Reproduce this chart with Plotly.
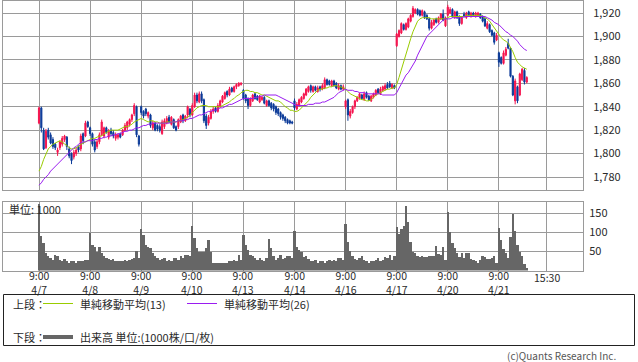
import plotly.graph_objects as go

# ---------------- data ----------------
days = ["4/7", "4/8", "4/9", "4/10", "4/13", "4/14", "4/16", "4/17", "4/20", "4/21"]
bars_in_day = [22, 22, 22, 22, 22, 22, 22, 22, 22, 13]
slots_per_day = 22

open_ = [
    1826,1839,1820,1805,1820,1816,1812,1808,1801,1805,1808,1812,1814,1804,1800,1797,1800,1806,1804,1817,1815,1827,
    1822,1817,1810,1806,1810,1816,1815,1822,1814,1820,1818,1813,1814,1817,1816,1820,1822,1825,1829,1834,1840,1815,
    1840,1836,1838,1832,1833,1822,1826,1824,1823,1817,1823,1826,1831,1825,1829,1823,1823,1827,1833,1828,1833,1838,
    1833,1840,1850,1844,1851,1846,1832,1826,1830,1836,1839,1836,1840,1844,1847,1853,1850,1856,1853,1857,1858,1859,
    1854,1850,1847,1841,1845,1851,1849,1844,1846,1848,1841,1845,1843,1842,1840,1838,1835,1833,1831,1829,1828,1827,
    1845,1838,1841,1844,1847,1850,1853,1858,1853,1857,1853,1857,1855,1856,1863,1862,1858,1862,1860,1855,1858,1855,
    1840,1846,1832,1835,1840,1845,1847,1850,1846,1852,1849,1845,1848,1850,1855,1851,1854,1855,1859,1860,1856,1858,
    1892,1900,1903,1910,1906,1908,1913,1917,1920,1923,1922,1918,1921,1918,1915,1907,1910,1915,1912,1915,1919,1909,
    1918,1920,1923,1916,1921,1917,1911,1919,1916,1921,1917,1920,1917,1918,1919,1917,1915,1907,1910,1905,1903,1897,
    1886,1882,1877,1884,1894,1890,1866,1845,1857,1850,1863,1871,1861,
]
high = [
    1840,1840,1822,1821,1822,1818,1814,1809,1805,1811,1815,1816,1815,1806,1801,1803,1805,1807,1817,1818,1828,1828,
    1823,1818,1812,1812,1818,1829,1823,1823,1821,1822,1820,1818,1817,1818,1821,1826,1828,1830,1834,1843,1841,1816,
    1841,1837,1839,1836,1834,1828,1827,1825,1825,1829,1830,1832,1833,1832,1830,1824,1830,1833,1834,1833,1841,1839,
    1843,1852,1852,1853,1853,1847,1834,1833,1838,1840,1840,1843,1846,1850,1853,1854,1857,1857,1858,1860,1861,1861,
    1855,1851,1848,1848,1851,1852,1850,1850,1849,1849,1846,1846,1844,1843,1841,1839,1836,1834,1832,1830,1829,1828,
    1847,1844,1847,1849,1852,1856,1858,1859,1858,1858,1858,1858,1860,1865,1864,1863,1863,1863,1861,1860,1859,1859,
    1846,1847,1838,1841,1846,1849,1852,1851,1853,1853,1850,1850,1852,1855,1856,1857,1858,1860,1861,1862,1860,1859,
    1903,1906,1912,1911,1912,1916,1919,1926,1924,1924,1923,1923,1922,1919,1916,1914,1915,1916,1917,1920,1923,1917,
    1927,1925,1924,1922,1922,1918,1917,1921,1921,1922,1921,1921,1921,1921,1920,1918,1916,1913,1911,1906,1904,1903,
    1887,1883,1888,1891,1898,1891,1867,1864,1858,1869,1873,1873,1866,
]
low = [
    1825,1818,1803,1804,1812,1808,1804,1803,1798,1803,1806,1810,1803,1796,1791,1795,1798,1801,1802,1808,1814,1822,
    1815,1806,1801,1804,1808,1815,1813,1817,1812,1815,1813,1811,1812,1813,1815,1819,1820,1823,1827,1832,1814,1806,
    1833,1830,1832,1830,1822,1820,1819,1819,1818,1816,1821,1825,1826,1824,1821,1819,1821,1826,1826,1827,1830,1831,
    1832,1839,1843,1843,1843,1826,1821,1824,1829,1834,1835,1835,1839,1843,1846,1848,1849,1852,1852,1855,1857,1858,
    1846,1843,1838,1840,1844,1846,1845,1843,1845,1842,1840,1840,1837,1836,1833,1832,1829,1828,1826,1825,1825,1825,
    1837,1837,1840,1843,1846,1849,1852,1852,1852,1853,1852,1853,1854,1855,1858,1858,1857,1857,1855,1854,1854,1854,
    1838,1828,1830,1834,1838,1844,1846,1846,1845,1847,1845,1844,1847,1849,1851,1850,1853,1854,1855,1856,1855,1855,
    1891,1899,1902,1905,1905,1907,1912,1916,1919,1918,1917,1917,1915,1914,1905,1906,1909,1911,1911,1914,1913,1908,
    1917,1919,1916,1915,1915,1909,1910,1916,1915,1917,1916,1917,1916,1917,1915,1912,1908,1906,1903,1900,1893,1896,
    1874,1876,1876,1883,1889,1865,1849,1842,1843,1849,1862,1859,1860,
]
close = [
    1839,1822,1804,1819,1814,1809,1806,1805,1803,1810,1813,1815,1806,1798,1794,1801,1803,1803,1815,1811,1826,1823,
    1817,1808,1803,1810,1816,1827,1822,1818,1819,1817,1815,1816,1816,1814,1820,1824,1827,1829,1833,1841,1816,1808,
    1835,1832,1834,1835,1824,1826,1820,1821,1820,1827,1828,1830,1827,1831,1822,1820,1829,1832,1828,1832,1840,1833,
    1841,1850,1845,1851,1845,1828,1824,1831,1836,1838,1836,1841,1845,1849,1852,1850,1855,1853,1857,1859,1860,1860,
    1847,1845,1841,1847,1850,1847,1846,1849,1848,1843,1845,1841,1839,1838,1835,1834,1831,1830,1828,1826,1826,1826,
    1839,1842,1846,1848,1851,1855,1857,1854,1857,1854,1856,1855,1858,1863,1859,1859,1862,1858,1856,1858,1855,1857,
    1845,1833,1836,1840,1845,1848,1851,1847,1851,1848,1846,1849,1851,1854,1852,1855,1857,1858,1856,1857,1859,1856,
    1902,1905,1911,1906,1911,1915,1918,1924,1923,1919,1918,1922,1916,1915,1907,1912,1914,1912,1916,1919,1914,1916,
    1925,1923,1917,1921,1916,1911,1916,1917,1920,1918,1920,1918,1920,1920,1916,1913,1909,1911,1904,1901,1895,1901,
    1878,1877,1886,1889,1890,1866,1850,1862,1845,1868,1872,1861,1865,
]
ma13 = [
    1785,1789,1795,1800,1804,1806,1808,1809,1810,1811,1810,1808,1807,1805,1804,1804,1805,1806,1808,1809,1810,1811,
    1812,1813,1813,1814,1815,1815,1817,1818,1819,1820,1820,1820,1820,1821,1822,1823,1823,1824,1825,1827,1828,1829,
    1830,1829,1828,1827,1828,1828,1827,1827,1826,1826,1826,1827,1827,1827,1827,1827,1828,1828,1829,1830,1831,1833,
    1835,1837,1839,1840,1841,1841,1841,1840,1840,1840,1840,1840,1840,1841,1842,1843,1844,1846,1847,1849,1850,1852,
    1853,1854,1854,1853,1853,1852,1852,1851,1850,1850,1849,1848,1847,1846,1845,1845,1844,1842,1840,1839,1837,1837,
    1836,1836,1837,1839,1841,1843,1845,1848,1850,1852,1854,1855,1855,1856,1856,1857,1857,1858,1858,1857,1857,1856,
    1855,1853,1851,1850,1849,1848,1847,1846,1846,1845,1845,1846,1848,1850,1851,1852,1853,1854,1855,1855,1856,1856,
    1859,1865,1872,1879,1886,1892,1898,1904,1909,1913,1915,1916,1916,1916,1916,1915,1915,1915,1915,1915,1915,1915,
    1916,1917,1917,1917,1917,1917,1917,1917,1918,1918,1918,1918,1918,1918,1918,1917,1916,1915,1913,1910,1907,1904,
    1901,1899,1897,1896,1894,1891,1887,1882,1878,1876,1874,1873,1872,
]
ma26 = [
    1773,1775,1778,1780,1782,1785,1787,1789,1791,1793,1795,1797,1799,1801,1803,1805,1806,1808,1809,1810,1810,1811,
    1811,1811,1812,1812,1813,1813,1814,1814,1815,1815,1816,1816,1817,1817,1818,1819,1819,1820,1820,1821,1822,1822,
    1823,1824,1824,1825,1825,1826,1826,1826,1826,1826,1826,1826,1826,1827,1827,1827,1828,1828,1828,1829,1829,1830,
    1830,1831,1832,1833,1833,1834,1835,1836,1836,1837,1837,1838,1839,1839,1840,1841,1842,1842,1843,1844,1845,1846,
    1847,1847,1847,1847,1847,1848,1848,1849,1849,1850,1850,1850,1850,1850,1850,1849,1848,1847,1846,1845,1844,1843,
    1842,1841,1841,1841,1841,1841,1842,1842,1842,1843,1843,1843,1844,1844,1845,1846,1847,1848,1850,1852,1853,1854,
    1855,1854,1854,1854,1853,1853,1852,1852,1852,1851,1851,1851,1851,1851,1851,1851,1850,1850,1850,1850,1850,1850,
    1852,1856,1860,1863,1867,1869,1872,1876,1879,1884,1888,1892,1896,1900,1902,1904,1906,1908,1910,1912,1914,1915,
    1915,1915,1916,1916,1916,1916,1916,1917,1917,1917,1917,1917,1917,1917,1917,1917,1917,1916,1915,1914,1912,1911,
    1910,1908,1906,1904,1903,1901,1900,1898,1896,1893,1891,1889,1888,
]
volume = [
    175,90,72,46,37,33,28,41,37,28,26,31,24,19,26,24,19,26,24,26,27,28,
    99,66,61,50,63,46,37,33,31,28,30,26,26,24,26,28,26,28,30,33,52,33,
    108,93,68,61,59,46,37,33,28,31,33,26,28,26,33,34,28,37,33,40,41,37,
    116,86,59,48,48,50,59,81,50,19,19,19,19,19,19,21,24,26,28,26,41,28,
    93,68,55,41,37,33,28,34,28,24,33,83,59,37,28,33,41,31,33,37,38,33,
    104,63,54,50,35,37,30,24,24,28,21,26,24,21,26,27,24,28,26,33,33,28,
    123,75,52,37,31,28,32,39,28,24,19,24,26,28,33,26,28,35,32,41,28,37,
    114,95,110,116,170,128,74,50,45,37,35,38,35,35,37,37,39,64,44,41,61,28,
    154,102,72,59,46,35,46,33,46,46,30,28,24,21,28,37,35,30,30,33,39,20,
    111,80,56,46,33,87,150,103,68,50,37,18,6,
]
price_ticks = [1780, 1800, 1820, 1840, 1860, 1880, 1900, 1920]
volume_ticks = [50, 100, 150]
close_label = "15:30"
close_slot = 20.7  # position of the 15:30 line inside the last day

# ---------------- style ----------------
RED = "#f5144e"
BLUE = "#0b3a98"
GREEN = "#99cc00"
PURPLE = "#9a1cf0"
VOLC = "#666666"
GRID = "#9a9a9a"
TXT = "#2a2a2a"
FONT = "Noto Sans CJK JP, Noto Sans, sans-serif"
W, H = 638, 362

def px(x):
    return x / W

def py(y):
    return 1 - y / H

x = []
for d, n in enumerate(bars_in_day):
    for k in range(n):
        x.append(d * slots_per_day + k)

grid_x = [d * slots_per_day for d in range(len(days))] + [(len(days) - 1) * slots_per_day + close_slot]
unit = 51.1 / slots_per_day
x_left = (3 - 39) / unit
x_right = (583 - 39) / unit

fig = go.Figure()
fig.add_trace(go.Candlestick(
    x=x, open=open_, high=high, low=low, close=close,
    increasing=dict(line=dict(color=RED, width=1), fillcolor=RED),
    decreasing=dict(line=dict(color=BLUE, width=1), fillcolor=BLUE),
    whiskerwidth=0, xaxis="x", yaxis="y", showlegend=False, hoverinfo="skip"))
fig.add_trace(go.Scatter(x=x, y=ma13, mode="lines", line=dict(color=GREEN, width=1),
                         xaxis="x", yaxis="y", showlegend=False, hoverinfo="skip"))
fig.add_trace(go.Scatter(x=x, y=ma26, mode="lines", line=dict(color=PURPLE, width=1),
                         xaxis="x", yaxis="y", showlegend=False, hoverinfo="skip"))
fig.add_trace(go.Bar(x=x, y=volume, width=1.0, marker=dict(color=VOLC, line=dict(width=0)),
                     xaxis="x2", yaxis="y2", showlegend=False, hoverinfo="skip"))

# pixel geometry
main_top, main_bot = 1, 190
vol_top, vol_bot = 202, 270.5
ppu = (177 - 13) / 140.0
p_top = 1920 + (13 - main_top) / ppu
p_bot = 1780 - (main_bot - 177) / ppu
v_ppu = 57.0 / 150
v_top = (vol_bot - vol_top) / v_ppu

xcommon = dict(range=[x_left, x_right], tickmode="array", tickvals=grid_x, showticklabels=False,
               showgrid=True, gridcolor=GRID, gridwidth=1, showline=True, linecolor=GRID,
               linewidth=1, mirror=True, zeroline=False, ticks="", fixedrange=True,
               domain=[px(3), px(583)])

fig.update_layout(
    width=W, height=H, margin=dict(l=0, r=0, t=0, b=0),
    paper_bgcolor="white", plot_bgcolor="white", showlegend=False,
    bargap=0, font=dict(family=FONT, size=11, color=TXT),
    xaxis=dict(xcommon, anchor="y", rangeslider=dict(visible=False)),
    xaxis2=dict(xcommon, anchor="y2"),
    yaxis=dict(domain=[py(main_bot), py(main_top)], range=[p_bot, p_top], anchor="x",
               side="right", tickmode="array", tickvals=price_ticks,
               ticktext=[f"{v:,}" for v in price_ticks], showgrid=True, gridcolor=GRID,
               showline=True, linecolor=GRID, mirror=True, zeroline=False,
               ticks="outside", ticklen=7, tickcolor="rgba(0,0,0,0)", fixedrange=True,
               tickfont=dict(family=FONT, size=11, color=TXT)),
    yaxis2=dict(domain=[py(vol_bot), py(vol_top)], range=[0, v_top], anchor="x2",
                side="right", tickmode="array", tickvals=volume_ticks,
                ticktext=[str(v) for v in volume_ticks], showgrid=True, gridcolor=GRID,
                showline=True, linecolor=GRID, mirror=True, zeroline=False,
                ticks="outside", ticklen=3, tickcolor="rgba(0,0,0,0)", fixedrange=True,
                tickfont=dict(family=FONT, size=11, color=TXT)),
)

ann = []
# x labels (time + date in one block)
for d, lab in enumerate(days):
    gx = d * slots_per_day
    ann.append(dict(x=gx, y=py(282.5), xref="x2", yref="paper", text=f"9:00<br>{lab}", showarrow=False,
                    xanchor="center", yanchor="middle", font=dict(size=10.5, color=TXT)))
ann.append(dict(x=grid_x[-1], y=py(277.5), xref="x2", yref="paper", text=close_label, showarrow=False,
                xanchor="center", yanchor="middle", font=dict(size=10.5, color=TXT)))
# unit label in volume panel
ann.append(dict(x=px(7), y=py(209), xref="paper", yref="paper", text="単位: 1000", showarrow=False,
                xanchor="left", yanchor="middle", font=dict(size=11, color=TXT)))
# legend texts
ann.append(dict(x=px(11), y=py(304), xref="paper", yref="paper", text="上段：", showarrow=False,
                xanchor="left", yanchor="middle", font=dict(size=11, color=TXT)))
ann.append(dict(x=px(78), y=py(304), xref="paper", yref="paper", text="単純移動平均(13)", showarrow=False,
                xanchor="left", yanchor="middle", font=dict(size=11, color=TXT)))
ann.append(dict(x=px(222), y=py(304), xref="paper", yref="paper", text="単純移動平均(26)", showarrow=False,
                xanchor="left", yanchor="middle", font=dict(size=11, color=TXT)))
ann.append(dict(x=px(11), y=py(337), xref="paper", yref="paper", text="下段：", showarrow=False,
                xanchor="left", yanchor="middle", font=dict(size=11, color=TXT)))
ann.append(dict(x=px(78), y=py(337), xref="paper", yref="paper", text="出来高 単位:(1000株/口/枚)",
                showarrow=False, xanchor="left", yanchor="middle", font=dict(size=11, color=TXT)))
ann.append(dict(x=px(618), y=py(355), xref="paper", yref="paper", text="(c)Quants Research Inc.",
                showarrow=False, xanchor="right", yanchor="middle", font=dict(size=10, color="#555555")))
fig.update_layout(annotations=ann)

shapes = [
    dict(type="rect", xref="paper", yref="paper", x0=px(3.5), x1=px(634.5), y0=py(345.5), y1=py(294.5),
         line=dict(color="#222222", width=1), fillcolor="rgba(0,0,0,0)"),
    dict(type="line", xref="paper", yref="paper", x0=px(43), x1=px(73), y0=py(303.5), y1=py(303.5),
         line=dict(color=GREEN, width=1)),
    dict(type="line", xref="paper", yref="paper", x0=px(187), x1=px(217), y0=py(303.5), y1=py(303.5),
         line=dict(color=PURPLE, width=1)),
    dict(type="line", xref="paper", yref="paper", x0=px(43), x1=px(73), y0=py(337), y1=py(337),
         line=dict(color=VOLC, width=4)),
]
fig.update_layout(shapes=shapes)

fig.write_html("out.html", config={"displayModeBar": False},
               post_script="document.body.style.margin='0';document.body.style.overflow='hidden';")
